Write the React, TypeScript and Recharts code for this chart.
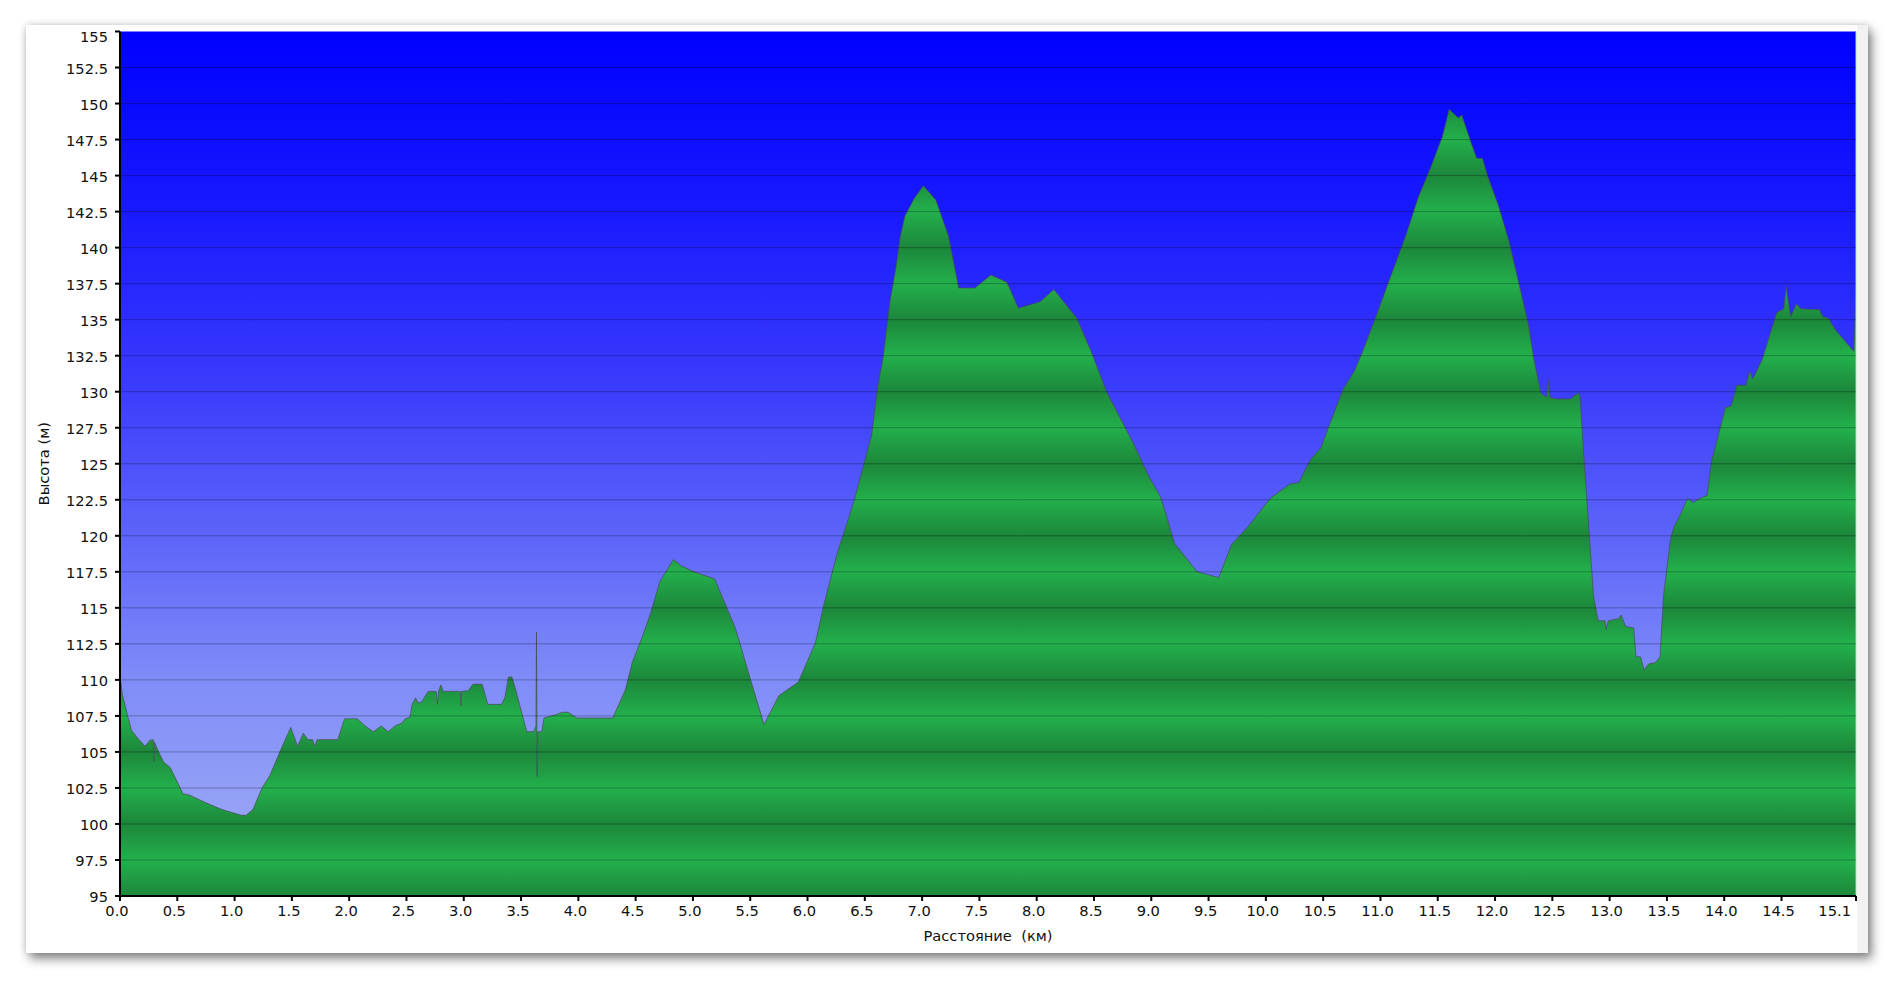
import { AreaChart, Area, XAxis, YAxis, CartesianGrid, Label, ReferenceLine } from 'recharts';

// профиль высоты: расстояние (км) / высота (м)
const distanceKm = [
  0.0, 0.02, 0.07, 0.1, 0.16, 0.22, 0.26, 0.29, 0.295, 0.3, 0.32, 0.38, 0.44, 0.55, 0.61, 0.74, 0.89, 1.06, 1.1, 1.16,
  1.24, 1.31, 1.4, 1.49, 1.55, 1.6, 1.64, 1.68, 1.7, 1.72, 1.9, 1.96, 2.07, 2.14, 2.21, 2.28, 2.34, 2.4, 2.46, 2.49,
  2.53, 2.55, 2.58, 2.6, 2.63, 2.69, 2.76, 2.77, 2.78, 2.8, 2.82, 2.97, 2.975, 2.98, 3.04, 3.08, 3.16, 3.21, 3.33, 3.36,
  3.39, 3.42, 3.45, 3.55, 3.61, 3.63, 3.635, 3.64, 3.645, 3.68, 3.7, 3.81, 3.86, 3.91, 3.96, 3.99, 4.3, 4.41, 4.47, 4.54,
  4.63, 4.71, 4.83, 4.9, 5.01, 5.19, 5.37, 5.5, 5.62, 5.75, 5.92, 6.07, 6.14, 6.26, 6.4, 6.56, 6.61, 6.66, 6.72, 6.77,
  6.81, 6.85, 6.93, 7.01, 7.12, 7.23, 7.32, 7.46, 7.6, 7.74, 7.84, 8.03, 8.15, 8.35, 8.47, 8.61, 8.85, 8.98, 9.08, 9.14,
  9.2, 9.4, 9.59, 9.7, 9.84, 10.04, 10.21, 10.29, 10.32, 10.39, 10.48, 10.55, 10.67, 10.77, 10.84, 10.96, 11.07, 11.22, 11.33, 11.44,
  11.54, 11.6, 11.68, 11.71, 11.79, 11.84, 11.89, 11.93, 12.03, 12.12, 12.21, 12.29, 12.34, 12.4, 12.45, 12.46, 12.48, 12.54, 12.66, 12.72,
  12.74, 12.76, 12.8, 12.86, 12.9, 12.96, 12.97, 12.99, 13.08, 13.1, 13.14, 13.21, 13.23, 13.27, 13.3, 13.34, 13.4, 13.44, 13.47, 13.53,
  13.56, 13.62, 13.68, 13.73, 13.79, 13.85, 13.89, 13.95, 14.01, 14.06, 14.11, 14.19, 14.22, 14.25, 14.33, 14.4, 14.46, 14.52, 14.54, 14.58,
  14.63, 14.67, 14.83, 14.86, 14.91, 14.97, 15.13, 15.15,
];
const elevationM = [
  110.3, 109.0, 107.4, 106.5, 105.9, 105.4, 105.8, 105.85, 104.3, 105.7, 105.3, 104.3, 103.9, 102.1, 102.0, 101.5, 101.0, 100.6, 100.6, 101.0,
  102.5, 103.4, 105.1, 106.7, 105.4, 106.3, 105.85, 105.85, 105.4, 105.85, 105.85, 107.3, 107.3, 106.8, 106.4, 106.8, 106.4, 106.8, 107.0, 107.3,
  107.4, 108.3, 108.75, 108.4, 108.45, 109.2, 109.2, 108.3, 109.2, 109.65, 109.2, 109.2, 108.2, 109.2, 109.25, 109.7, 109.7, 108.3, 108.3, 108.8,
  110.2, 110.2, 109.4, 106.4, 106.4, 106.8, 113.3, 103.3, 106.4, 106.4, 107.35, 107.6, 107.75, 107.75, 107.5, 107.35, 107.35, 109.3, 111.2, 112.6,
  114.6, 116.8, 118.35, 117.9, 117.5, 117.0, 113.6, 110.1, 106.9, 108.9, 109.85, 112.6, 115.15, 118.8, 122.25, 127.0, 130.2, 132.4, 136.3, 138.55,
  140.8, 142.2, 143.4, 144.3, 143.3, 140.8, 137.2, 137.2, 138.1, 137.6, 135.8, 136.25, 137.1, 135.1, 132.9, 130.0, 126.3, 124.1, 122.7, 121.2,
  119.5, 117.5, 117.1, 119.4, 120.6, 122.6, 123.6, 123.7, 124.2, 125.3, 126.1, 127.6, 130.1, 131.4, 132.7, 135.2, 137.6, 140.8, 143.5, 145.6,
  147.7, 149.6, 149.0, 149.2, 147.3, 146.2, 146.2, 145.1, 142.9, 140.5, 137.45, 134.7, 132.2, 129.9, 129.6, 130.9, 129.6, 129.5, 129.5, 129.9,
  129.8, 127.3, 122.6, 115.8, 114.1, 114.1, 113.5, 114.1, 114.25, 114.5, 113.7, 113.6, 111.6, 111.6, 110.7, 111.1, 111.2, 111.6, 115.8, 119.7,
  120.6, 121.5, 122.6, 122.3, 122.6, 122.8, 125.2, 127.0, 128.9, 129.0, 130.45, 130.45, 131.4, 130.9, 132.2, 134.0, 135.5, 135.75, 137.3, 135.2,
  136.1, 135.75, 135.7, 135.2, 135.1, 134.3, 132.8, 136.7,
];

const xTicks = [
  0, 0.5, 1, 1.5, 2, 2.5, 3, 3.5, 4, 4.5, 5, 5.5, 6, 6.5, 7, 7.5,
  8, 8.5, 9, 9.5, 10, 10.5, 11, 11.5, 12, 12.5, 13, 13.5, 14, 14.5, 15.15,
];
const yTicks = [
  95, 97.5, 100, 102.5, 105, 107.5, 110, 112.5, 115, 117.5, 120, 122.5, 125,
  127.5, 130, 132.5, 135, 137.5, 140, 142.5, 145, 147.5, 150, 152.5, 155,
];

const data = distanceKm.map((km, i) => ({ km, elev: elevationM[i] }));

const FONT = "'DejaVu Sans', Verdana, sans-serif";
const FS = 14.67;
const W = 1831;
const H = 928;
const margin = { top: 6.5, right: 1, bottom: 27, left: 34 };
const X_AXIS_H = 30;
const xMax = xTicks[xTicks.length - 1];
const yMin = yTicks[0];
const yMax = yTicks[yTicks.length - 1];
const plotH = H - margin.top - margin.bottom - X_AXIS_H;
const yPix = (v: number) => margin.top + ((yMax - v) / (yMax - yMin)) * plotH;

function XTick(props: any) {
  const { x, y, payload } = props;
  const last = payload.value === xMax;
  const label = (Math.floor(payload.value * 10 + 1e-6) / 10).toFixed(1);
  return (
    <text x={last ? x - 5 : x - 3} y={y} dy="0.71em" textAnchor={last ? 'end' : 'middle'}
      fill="#111" fontSize={FS} fontFamily={FONT}>
      {label}
    </text>
  );
}

function YTick(props: any) {
  const { x, y, payload } = props;
  const v = payload.value;
  const label = Number.isInteger(v) ? String(v) : v.toFixed(1);
  const shift = v === yMax ? 5.5 : 1;
  return (
    <text x={x} y={y + shift} dy="0.355em" textAnchor="end" fill="#111" fontSize={FS} fontFamily={FONT}>
      {label}
    </text>
  );
}

const renderYLabel = (props: any) => {
  const vb = props.viewBox;
  const cx = vb.x - 17;
  const cy = vb.y + vb.height / 2;
  return (
    <text x={cx} y={cy} transform={`rotate(-90 ${cx} ${cy})`} textAnchor="middle" dominantBaseline="central"
      fill="#111" fontSize={FS} fontFamily={FONT}>
      Высота (м)
    </text>
  );
};

export default function App() {
  return (
    <div style={{ position: 'absolute', left: 0, top: 0, width: 1894, height: 981, background: '#fff' }}>
      <div
        style={{
          position: 'absolute', left: 26, top: 25, width: 1842, height: 928, boxSizing: 'border-box',
          background: '#fff', borderRight: '11px solid #f2f2f2',
          boxShadow: '4px 6px 10px rgba(0,0,0,0.45), 0 0 7px rgba(0,0,0,0.18)',
        }}
      >
        <AreaChart width={W} height={H} data={data} margin={margin}>
          <defs>
            <linearGradient id="sky" x1="0" y1="0" x2="0" y2="1">
              <stop offset="0" stopColor="#0000ff" />
              <stop offset="0.2" stopColor="#1818ff" />
              <stop offset="0.4" stopColor="#383afc" />
              <stop offset="0.6" stopColor="#6068f9" />
              <stop offset="0.75" stopColor="#808cf8" />
              <stop offset="1" stopColor="#a3b0f5" />
            </linearGradient>
            <linearGradient id="bands" gradientUnits="userSpaceOnUse" spreadMethod="repeat"
              x1="0" x2="0" y1={yPix(100)} y2={yPix(95)}>
              <stop offset="0" stopColor="#1c873b" />
              <stop offset="0.5" stopColor="#23b04c" />
              <stop offset="1" stopColor="#1c873b" />
            </linearGradient>
          </defs>
          <CartesianGrid horizontal={false} vertical={false} fill="url(#sky)" fillOpacity={1} stroke="none" />
          <XAxis
            type="number" dataKey="km" domain={[0, xMax]} ticks={xTicks} interval={0} allowDataOverflow
            height={X_AXIS_H} tickSize={5} tickMargin={5} tick={<XTick />}
            axisLine={{ stroke: '#000', strokeWidth: 2 }} tickLine={{ stroke: '#000', strokeWidth: 2 }}
          >
            <Label value={'Расстояние\u00a0 (км)'} position="bottom" offset={5} fill="#111" fontSize={FS} fontFamily={FONT} />
          </XAxis>
          <YAxis
            type="number" domain={[yMin, yMax]} ticks={yTicks} interval={0} allowDataOverflow
            width={60} tickSize={5} tickMargin={7} tick={<YTick />}
            axisLine={{ stroke: '#000', strokeWidth: 2 }} tickLine={{ stroke: '#000', strokeWidth: 2 }}
          >
            <Label content={renderYLabel} />
          </YAxis>
          <Area
            type="linear" dataKey="elev" stroke="#4a4a55" strokeOpacity={0.7} strokeWidth={1}
            fill="url(#bands)" fillOpacity={1} dot={false} activeDot={false} isAnimationActive={false}
          />
          <CartesianGrid
            vertical={false} horizontalValues={yTicks.slice(1, -1)} stroke="#000" strokeOpacity={0.28}
            fill="none" zIndex={600}
          />
          <ReferenceLine x={xMax} stroke="#9be3b0" strokeWidth={1} />
        </AreaChart>
      </div>
    </div>
  );
}
